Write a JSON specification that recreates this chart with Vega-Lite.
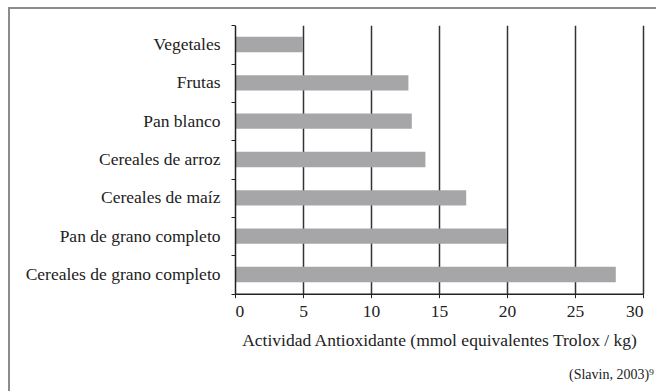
{
  "$schema": "https://vega.github.io/schema/vega-lite/v6.json",
  "width": 648,
  "height": 390,
  "autosize": "none",
  "padding": {"left": 9, "top": 8, "right": 0, "bottom": 0},
  "background": "white",
  "config": {
    "view": {"stroke": "#8c8c8c", "strokeWidth": 2},
    "font": "Liberation Serif",
    "axisY": {
      "tickBand": "extent",
      "tickSize": 4,
      "tickColor": "#222222",
      "domainColor": "#222222",
      "domainWidth": 1.5,
      "labelFont": "Liberation Serif",
      "labelFontSize": 17.5,
      "labelColor": "#222222",
      "labelPadding": 11,
      "labelLimit": 400,
      "grid": false
    }
  },
  "title": {
    "text": "(Slavin, 2003)⁹",
    "orient": "bottom",
    "anchor": "end",
    "frame": "group",
    "baseline": "alphabetic",
    "offset": -19,
    "dx": -3,
    "fontSize": 14,
    "fontWeight": "normal",
    "color": "#222222",
    "font": "Liberation Serif"
  },
  "data": {
    "values": [
      {"alimento": "Vegetales", "actividad": 5},
      {"alimento": "Frutas", "actividad": 12.75},
      {"alimento": "Pan blanco", "actividad": 13},
      {"alimento": "Cereales de arroz", "actividad": 14},
      {"alimento": "Cereales de maíz", "actividad": 17},
      {"alimento": "Pan de grano completo", "actividad": 20},
      {"alimento": "Cereales de grano completo", "actividad": 28}
    ]
  },
  "resolve": {"axis": {"x": "independent"}},
  "layer": [
    {
      "mark": {"type": "bar", "color": "#a6a6a8", "opacity": 0, "height": {"band": 0.4}},
      "encoding": {
        "y": {
          "field": "alimento",
          "type": "nominal",
          "sort": null,
          "scale": {"range": [17.3, 285.7], "paddingInner": 0, "paddingOuter": 0},
          "axis": {"orient": "left", "offset": -226, "title": null, "zindex": 1}
        },
        "x": {
          "field": "actividad",
          "type": "quantitative",
          "scale": {"domain": [0, 30], "range": [226, 634], "nice": false},
          "axis": {
            "orient": "top",
            "values": [5, 10, 15, 20, 25, 30],
            "title": null,
            "labels": false,
            "ticks": false,
            "domain": false,
            "grid": true,
            "gridColor": "#333333",
            "gridWidth": 1.5
          }
        }
      }
    },
    {
      "mark": {"type": "bar", "color": "#a6a6a8", "height": {"band": 0.4}},
      "encoding": {
        "y": {
          "field": "alimento",
          "type": "nominal",
          "sort": null,
          "scale": {"range": [17.3, 285.7], "paddingInner": 0, "paddingOuter": 0},
          "axis": {"orient": "left", "offset": -226, "title": null, "zindex": 1}
        },
        "x": {
          "field": "actividad",
          "type": "quantitative",
          "scale": {"domain": [0, 30], "range": [226, 634], "nice": false},
          "axis": {
            "orient": "bottom",
            "offset": -104.3,
            "values": [0, 5, 10, 15, 20, 25, 30],
            "title": "Actividad Antioxidante (mmol equivalentes Trolox / kg)",
            "titleFont": "Liberation Serif",
            "titleFontSize": 17.5,
            "titleFontWeight": "normal",
            "titleColor": "#222222",
            "titlePadding": 11,
            "tickSize": 4,
            "tickColor": "#222222",
            "domainColor": "#222222",
            "domainWidth": 1.5,
            "labelFont": "Liberation Serif",
            "labelFontSize": 17.5,
            "labelColor": "#222222",
            "labelPadding": 5,
            "grid": false,
            "zindex": 1
          }
        }
      }
    }
  ]
}
